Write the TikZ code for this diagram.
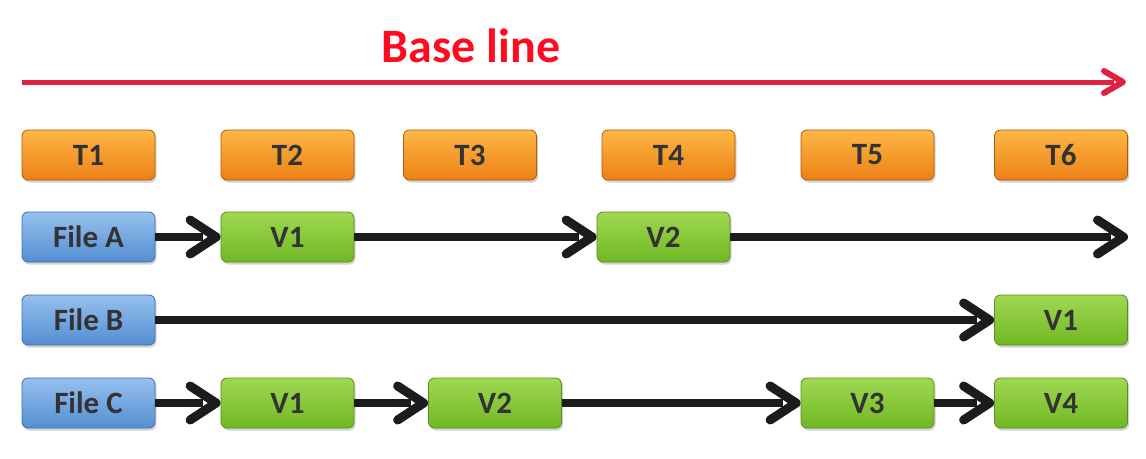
\documentclass[tikz,border=0pt]{standalone}
\usepackage{fontspec}
\setmainfont{Carlito}
\usetikzlibrary{arrows.meta,shadows}
\pgfdeclarearrow{
  name = Chev,
  parameters = {\the\pgfarrowlength,\the\pgfarrowwidth,\the\pgfarrowlinewidth},
  setup code = {
    \pgfarrowssettipend{0.5\pgfarrowlinewidth}
    \pgfarrowssetlineend{-0.5\pgfarrowlength}
    \pgfarrowssetbackend{-\pgfarrowlength}
    \pgfarrowsupperhullpoint{-\pgfarrowlength}{0.5\pgfarrowwidth}
    \pgfarrowssavethe\pgfarrowlength
    \pgfarrowssavethe\pgfarrowwidth
    \pgfarrowssavethe\pgfarrowlinewidth
  },
  drawing code = {
    \pgfsetlinewidth{\pgfarrowlinewidth}
    \pgfsetroundcap
    \pgfsetroundjoin
    \pgfpathmoveto{\pgfpoint{-\pgfarrowlength}{0.5\pgfarrowwidth}}
    \pgfpathlineto{\pgfpointorigin}
    \pgfpathlineto{\pgfpoint{-\pgfarrowlength}{-0.5\pgfarrowwidth}}
    \pgfusepathqstroke
  },
  defaults = {length=20pt, width=30pt}
}
\definecolor{redline}{HTML}{E0203F}
\definecolor{basered}{HTML}{FF0A1E}
\definecolor{txt}{HTML}{333333}
\definecolor{arrowblack}{HTML}{1C1C1C}
\tikzset{
  box/.style={rounded corners=6pt, minimum width=133pt, minimum height=50pt,
    inner sep=0pt, font=\fontsize{31}{31}\selectfont\bfseries, text=txt,
    line width=0.8pt,
    drop shadow={shadow xshift=1.5pt, shadow yshift=-2.5pt, opacity=0.35}},
  tbox/.style={box, draw=orange!70!black, top color={rgb,255:red,253;green,184;blue,70},
    bottom color={rgb,255:red,236;green,128;blue,22}},
  fbox/.style={box, draw={rgb,255:red,60;green,110;blue,170}, top color={rgb,255:red,150;green,192;blue,238},
    bottom color={rgb,255:red,84;green,142;blue,210}},
  vbox/.style={box, draw={rgb,255:red,90;green,140;blue,30}, top color={rgb,255:red,160;green,216;blue,82},
    bottom color={rgb,255:red,112;green,184;blue,36}},
  flow/.style={line width=8pt, draw=arrowblack,
    -{Chev[length=26pt, width=34pt, line width=9pt]}},
}
\begin{document}
\begin{tikzpicture}[x=1pt,y=-1pt]
\useasboundingbox (0,0) rectangle (1146,458);
% title
\node[font=\fontsize{48}{48}\selectfont\bfseries, text=basered] (title) at (471,46) {Base line};
\coordinate (bl0) at (22,82);
\coordinate (bl1) at (1126,82);
\draw[line width=5pt, redline, -{Chev[length=19pt, width=22pt, line width=6pt]}] (bl0) -- (bl1);
% time row
\node[tbox] (t1) at (88.5,155) {T1};
\node[tbox] (t2) at (287.5,155) {T2};
\node[tbox] (t3) at (470,155) {T3};
\node[tbox] (t4) at (668.5,155) {T4};
\node[tbox] (t5) at (867.5,155) {T5};
\node[tbox] (t6) at (1061,155) {T6};
% file A
\node[fbox] (fa) at (88.5,237) {File A};
\node[vbox] (a1) at (287.5,237) {V1};
\node[vbox] (a2) at (663.5,237) {V2};
\coordinate (aend) at (1128,237);
\draw[flow] (fa) -- (a1);
\draw[flow] (a1) -- (a2);
\draw[flow] (a2) -- (aend);
% file B
\node[fbox] (fb) at (88.5,320) {File B};
\node[vbox] (b1) at (1061,320) {V1};
\draw[flow] (fb) -- (b1);
% file C
\node[fbox] (fc) at (88.5,403) {File C};
\node[vbox] (c1) at (287.5,403) {V1};
\node[vbox] (c2) at (495,403) {V2};
\node[vbox] (c3) at (867.5,403) {V3};
\node[vbox] (c4) at (1061,403) {V4};
\draw[flow] (fc) -- (c1);
\draw[flow] (c1) -- (c2);
\draw[flow] (c2) -- (c3);
\draw[flow] (c3) -- (c4);
\end{tikzpicture}
\end{document}
